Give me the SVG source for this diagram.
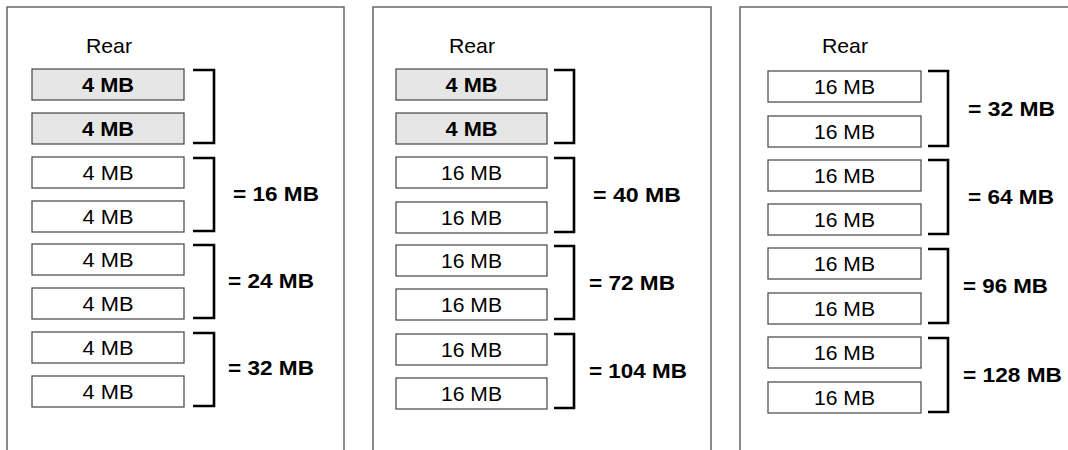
<svg xmlns="http://www.w3.org/2000/svg" width="1068" height="450" viewBox="0 0 1068 450">
<style>
.panel{fill:#fff;stroke:#666;stroke-width:1.5}
.box{fill:#fff;stroke:#444;stroke-width:1.2}
.box.hi{fill:#e6e6e6}
.t{font-family:"Liberation Sans",Arial,sans-serif;font-size:21px;fill:#000;text-anchor:middle}
.b{font-weight:bold}
.lbl{font-family:"Liberation Sans",Arial,sans-serif;font-size:21px;font-weight:bold;fill:#000}
.br{fill:none;stroke:#000;stroke-width:2.6}
</style>
<rect width="1068" height="450" fill="#fff"/>
<g id="panel1">
<rect class="panel" x="7" y="7" width="337" height="460"/>
<text class="t" x="109" y="53" textLength="46" lengthAdjust="spacingAndGlyphs">Rear</text>
<g id="p1b1"><rect class="box hi" x="32" y="69" width="152" height="31"/><text class="t b" x="108" y="92" textLength="52" lengthAdjust="spacingAndGlyphs">4 MB</text></g>
<g id="p1b2"><rect class="box hi" x="32" y="113" width="152" height="31"/><text class="t b" x="108" y="136" textLength="52" lengthAdjust="spacingAndGlyphs">4 MB</text></g>
<g id="p1b3"><rect class="box" x="32" y="157" width="152" height="31"/><text class="t" x="108" y="180" textLength="51" lengthAdjust="spacingAndGlyphs">4 MB</text></g>
<g id="p1b4"><rect class="box" x="32" y="201" width="152" height="31"/><text class="t" x="108" y="224" textLength="51" lengthAdjust="spacingAndGlyphs">4 MB</text></g>
<g id="p1b5"><rect class="box" x="32" y="244" width="152" height="31"/><text class="t" x="108" y="267" textLength="51" lengthAdjust="spacingAndGlyphs">4 MB</text></g>
<g id="p1b6"><rect class="box" x="32" y="288" width="152" height="31"/><text class="t" x="108" y="311" textLength="51" lengthAdjust="spacingAndGlyphs">4 MB</text></g>
<g id="p1b7"><rect class="box" x="32" y="332" width="152" height="31"/><text class="t" x="108" y="355" textLength="51" lengthAdjust="spacingAndGlyphs">4 MB</text></g>
<g id="p1b8"><rect class="box" x="32" y="376" width="152" height="31"/><text class="t" x="108" y="399" textLength="51" lengthAdjust="spacingAndGlyphs">4 MB</text></g>
<text class="lbl" x="233" y="201" textLength="86" lengthAdjust="spacingAndGlyphs">= 16 MB</text>
<text class="lbl" x="228" y="288" textLength="86" lengthAdjust="spacingAndGlyphs">= 24 MB</text>
<text class="lbl" x="228" y="375" textLength="86" lengthAdjust="spacingAndGlyphs">= 32 MB</text>
</g>
<g id="panel2">
<rect class="panel" x="373" y="7" width="338" height="460"/>
<text class="t" x="472" y="53" textLength="46" lengthAdjust="spacingAndGlyphs">Rear</text>
<g id="p2b1"><rect class="box hi" x="396" y="69" width="151" height="31"/><text class="t b" x="471.5" y="92" textLength="52" lengthAdjust="spacingAndGlyphs">4 MB</text></g>
<g id="p2b2"><rect class="box hi" x="396" y="113" width="151" height="31"/><text class="t b" x="471.5" y="136" textLength="52" lengthAdjust="spacingAndGlyphs">4 MB</text></g>
<g id="p2b3"><rect class="box" x="396" y="157" width="151" height="31"/><text class="t" x="471.5" y="180" textLength="61" lengthAdjust="spacingAndGlyphs">16 MB</text></g>
<g id="p2b4"><rect class="box" x="396" y="202" width="151" height="31"/><text class="t" x="471.5" y="225" textLength="61" lengthAdjust="spacingAndGlyphs">16 MB</text></g>
<g id="p2b5"><rect class="box" x="396" y="245" width="151" height="31"/><text class="t" x="471.5" y="268" textLength="61" lengthAdjust="spacingAndGlyphs">16 MB</text></g>
<g id="p2b6"><rect class="box" x="396" y="289" width="151" height="31"/><text class="t" x="471.5" y="312" textLength="61" lengthAdjust="spacingAndGlyphs">16 MB</text></g>
<g id="p2b7"><rect class="box" x="396" y="334" width="151" height="31"/><text class="t" x="471.5" y="357" textLength="61" lengthAdjust="spacingAndGlyphs">16 MB</text></g>
<g id="p2b8"><rect class="box" x="396" y="378" width="151" height="31"/><text class="t" x="471.5" y="401" textLength="61" lengthAdjust="spacingAndGlyphs">16 MB</text></g>
<text class="lbl" x="593" y="202" textLength="88" lengthAdjust="spacingAndGlyphs">= 40 MB</text>
<text class="lbl" x="589" y="290" textLength="86" lengthAdjust="spacingAndGlyphs">= 72 MB</text>
<text class="lbl" x="589" y="378" textLength="98" lengthAdjust="spacingAndGlyphs">= 104 MB</text>
</g>
<g id="panel3">
<rect class="panel" x="740" y="7" width="360" height="460"/>
<text class="t" x="845" y="53" textLength="46" lengthAdjust="spacingAndGlyphs">Rear</text>
<g id="p3b1"><rect class="box" x="768" y="71" width="153" height="31"/><text class="t" x="844.5" y="94" textLength="61" lengthAdjust="spacingAndGlyphs">16 MB</text></g>
<g id="p3b2"><rect class="box" x="768" y="116" width="153" height="31"/><text class="t" x="844.5" y="139" textLength="61" lengthAdjust="spacingAndGlyphs">16 MB</text></g>
<g id="p3b3"><rect class="box" x="768" y="160" width="153" height="31"/><text class="t" x="844.5" y="183" textLength="61" lengthAdjust="spacingAndGlyphs">16 MB</text></g>
<g id="p3b4"><rect class="box" x="768" y="204" width="153" height="31"/><text class="t" x="844.5" y="227" textLength="61" lengthAdjust="spacingAndGlyphs">16 MB</text></g>
<g id="p3b5"><rect class="box" x="768" y="248" width="153" height="31"/><text class="t" x="844.5" y="271" textLength="61" lengthAdjust="spacingAndGlyphs">16 MB</text></g>
<g id="p3b6"><rect class="box" x="768" y="293" width="153" height="31"/><text class="t" x="844.5" y="316" textLength="61" lengthAdjust="spacingAndGlyphs">16 MB</text></g>
<g id="p3b7"><rect class="box" x="768" y="337" width="153" height="31"/><text class="t" x="844.5" y="360" textLength="61" lengthAdjust="spacingAndGlyphs">16 MB</text></g>
<g id="p3b8"><rect class="box" x="768" y="382" width="153" height="31"/><text class="t" x="844.5" y="405" textLength="61" lengthAdjust="spacingAndGlyphs">16 MB</text></g>
<text class="lbl" x="968" y="116" textLength="87" lengthAdjust="spacingAndGlyphs">= 32 MB</text>
<text class="lbl" x="968" y="204" textLength="86" lengthAdjust="spacingAndGlyphs">= 64 MB</text>
<text class="lbl" x="963" y="293" textLength="85" lengthAdjust="spacingAndGlyphs">= 96 MB</text>
<text class="lbl" x="963" y="382" textLength="99" lengthAdjust="spacingAndGlyphs">= 128 MB</text>
</g>
<g id="connectors">
<path class="br" d="M193 70H214V143H193"/>
<path class="br" d="M193 158H214V231H193"/>
<path class="br" d="M193 245H214V318H193"/>
<path class="br" d="M193 333H214V406H193"/>
<path class="br" d="M554 70H574V143H554"/>
<path class="br" d="M554 158H574V232H554"/>
<path class="br" d="M554 246H574V319H554"/>
<path class="br" d="M554 334H574V408H554"/>
<path class="br" d="M928 71H948V146H928"/>
<path class="br" d="M928 160H948V234H928"/>
<path class="br" d="M928 249H948V323H928"/>
<path class="br" d="M928 338H948V412H928"/>
</g>
</svg>
